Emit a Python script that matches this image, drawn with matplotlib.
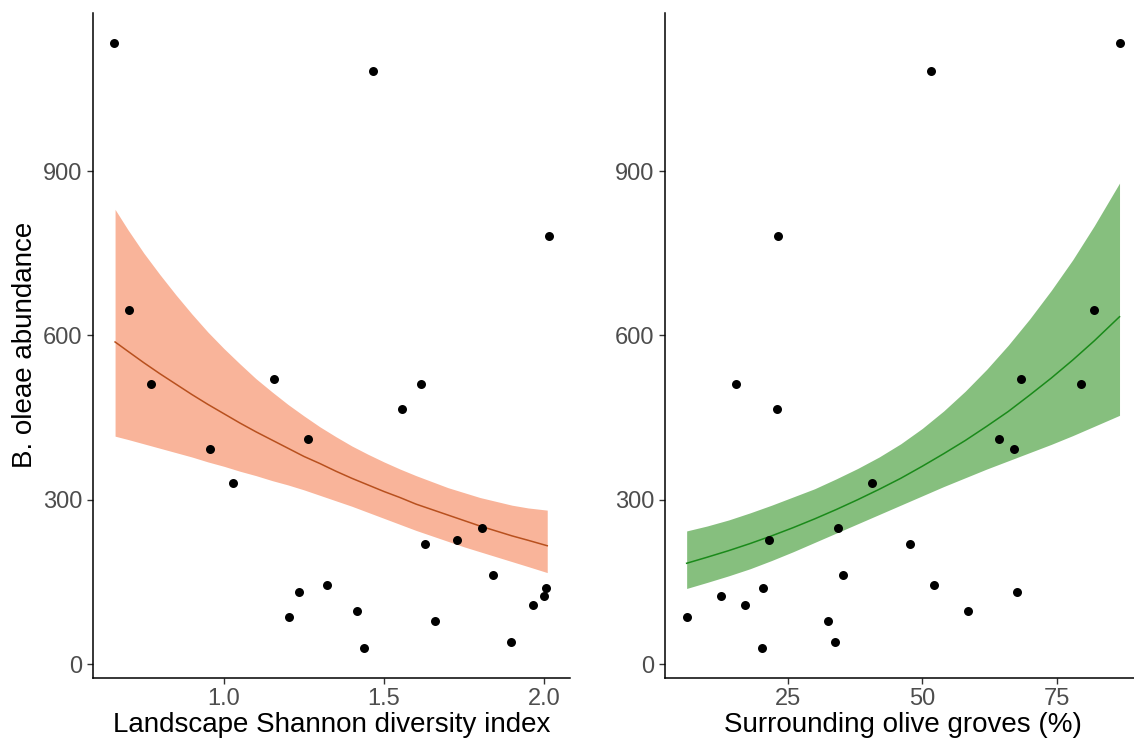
import matplotlib.pyplot as plt

plt.rcParams['font.family'] = ['Liberation Sans', 'DejaVu Sans']

# observed abundance (shared by both panels)
abundance = [1134, 1082, 781, 646, 512, 521, 512, 466, 393, 410, 330, 248,
             220, 226, 163, 144, 131, 138, 124, 108, 96, 85, 79, 40, 29]
shannon = [0.656, 1.465, 2.017, 0.704, 0.773, 1.155, 1.616, 1.557, 0.958, 1.264,
           1.027, 1.805, 1.627, 1.729, 1.840, 1.323, 1.235, 2.006, 2.000, 1.965,
           1.417, 1.204, 1.659, 1.898, 1.438]
olive = [86.7, 51.6, 23.2, 82.0, 15.3, 68.4, 79.6, 23.0, 67.1, 64.3,
         40.7, 34.3, 47.7, 21.6, 35.3, 52.2, 67.6, 20.4, 12.5, 17.0,
         58.5, 6.2, 32.5, 33.8, 20.2]

# fitted curve and confidence band
shan_grid = [0.66, 0.70, 0.75, 0.80, 0.85, 0.90, 0.95, 1.00, 1.05, 1.10, 1.15, 1.20, 1.25, 1.30,
             1.35, 1.40, 1.45, 1.50, 1.55, 1.60, 1.65, 1.70, 1.75, 1.80, 1.85, 1.90, 1.95, 2.01]
shan_fit = [588, 571, 550, 530, 511, 492, 474, 457, 440, 424, 409, 394, 379, 366,
            352, 339, 327, 315, 304, 292, 282, 272, 262, 252, 243, 234, 226, 216]
shan_hi = [830, 793, 750, 711, 674, 639, 606, 576, 548, 521, 497, 474, 453, 433,
           415, 398, 383, 369, 356, 344, 333, 322, 313, 304, 297, 290, 285, 281]
shan_lo = [416, 410, 402, 394, 386, 378, 369, 361, 352, 344, 335, 327, 318, 308,
           298, 288, 277, 266, 255, 244, 234, 224, 214, 205, 196, 187, 178, 167]

olive_grid = [6.2, 10, 14, 18, 22, 26, 30, 34, 38, 42, 46, 50, 54, 58, 62, 66, 70, 74, 78, 82, 86.7]
olive_fit = [184, 195, 207, 220, 234, 249, 265, 282, 300, 319, 339, 361, 384, 408,
             434, 461, 491, 522, 555, 590, 634]
olive_hi = [243, 252, 263, 276, 290, 305, 320, 338, 357, 378, 402, 430, 462, 498,
            538, 582, 630, 682, 738, 800, 878]
olive_lo = [138, 149, 161, 174, 189, 205, 222, 239, 256, 273, 290, 307, 324, 340,
            356, 371, 386, 401, 417, 434, 454]

fig = plt.figure(figsize=(11.34, 7.39), dpi=100)
ax1 = fig.add_axes([0.082, 0.0825, 0.4206, 0.9003])
ax2 = fig.add_axes([0.5864, 0.0825, 0.4198, 0.9003])

ax1.fill_between(shan_grid, shan_lo, shan_hi, color='#f9b49a', lw=0)
ax1.plot(shan_grid, shan_fit, color='#b8501e', lw=1.1)
ax1.scatter(shannon, abundance, s=42, color='black', zorder=3, lw=0)
ax1.set_xlim(0.591, 2.081)
ax1.set_xticks([1.0, 1.5, 2.0])
ax1.set_xlabel('Landscape Shannon diversity index')
ax1.set_ylabel('B. oleae abundance')

ax2.fill_between(olive_grid, olive_lo, olive_hi, color='#86bf7e', lw=0)
ax2.plot(olive_grid, olive_fit, color='#1a8a1a', lw=1.1)
ax2.scatter(olive, abundance, s=42, color='black', zorder=3, lw=0)
ax2.set_xlim(2.17, 90.7)
ax2.set_xticks([25, 50, 75])
ax2.set_xlabel('Surrounding olive groves (%)')

for ax in (ax1, ax2):
    ax.set_ylim(-25.5, 1189)
    ax.set_yticks([0, 300, 600, 900])
    ax.spines['top'].set_visible(False)
    ax.spines['right'].set_visible(False)
    for s in ('left', 'bottom'):
        ax.spines[s].set_linewidth(1.1)
    ax.tick_params(length=4.5, width=1, color='#333333', labelcolor='#4d4d4d',
                   labelsize=17, pad=3)
    ax.xaxis.label.set_size(20)
    ax.yaxis.label.set_size(20)
    ax.xaxis.labelpad = 1

fig.savefig('out.png', dpi=100)
